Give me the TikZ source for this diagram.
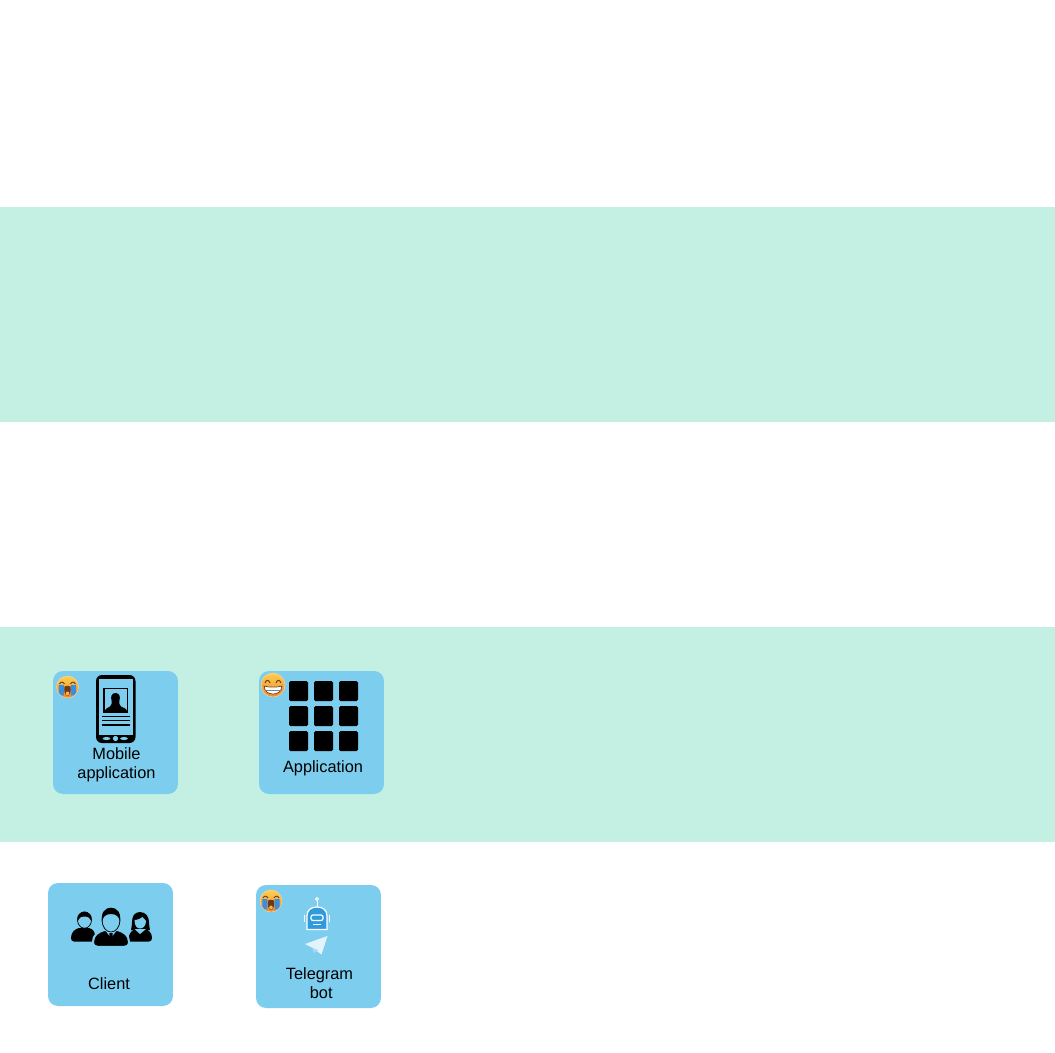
\documentclass[tikz,border=0pt]{standalone}
\usepackage{fontspec}
\setmainfont{Liberation Sans}
\definecolor{bandgreen}{HTML}{C3F0E3}
\definecolor{cardblue}{HTML}{7DCDEF}
\definecolor{botblue}{HTML}{2F9BDD}
\definecolor{planewhite}{HTML}{E3F3FB}
\definecolor{moji}{HTML}{FDD04F}
\definecolor{mojilow}{HTML}{EE8A2B}
\definecolor{mojibrown}{HTML}{6B3A1E}
\definecolor{tearblue}{HTML}{3A8EE0}
\tikzset{
    band/.style={fill=bandgreen},
    card/.style={fill=cardblue,rounded corners=0.2cm,minimum width=2.5cm,minimum height=2.46cm,inner sep=0pt},
    cardtext/.style={align=center,inner sep=0pt,font=\fontsize{9.3}{10.8}\selectfont},
    cutout/.style={fill=cardblue},
    cry/.pic={
        \shade[top color=moji,bottom color=mojilow,draw=white!60!mojilow,line width=0.3pt] (0,0) circle (11);
        \fill[tearblue] (-8.7,-2) -- (-3.7,-2) -- (-3.7,8.5) .. controls (-5.5,9.5) and (-7.5,8) .. (-8.7,5.5) -- cycle;
        \fill[tearblue] (8.7,-2) -- (3.7,-2) -- (3.7,8.5) .. controls (5.5,9.5) and (7.5,8) .. (8.7,5.5) -- cycle;
        \draw[mojibrown,line width=0.5pt] (-8,-3) .. controls (-6.5,-5.5) and (-4.5,-5.5) .. (-3,-3);
        \draw[mojibrown,line width=0.5pt] (8,-3) .. controls (6.5,-5.5) and (4.5,-5.5) .. (3,-3);
        \fill[mojibrown] (-3,-0.5) .. controls (-1,-1.5) and (1,-1.5) .. (3,-0.5) .. controls (3.8,3) and (2.8,9) .. (0,9) .. controls (-2.8,9) and (-3.8,3) .. (-3,-0.5) -- cycle;
        \fill[moji!60!mojilow] (0,6.5) ellipse (1.8 and 2);
    },
    grin/.pic={
        \shade[top color=moji,bottom color=mojilow,draw=white!60!mojilow,line width=0.3pt] (0,0) circle (12);
        \draw[mojibrown,line width=0.55pt] (-8,-2) .. controls (-7,-5.5) and (-4,-5.5) .. (-3,-2);
        \draw[mojibrown,line width=0.55pt] (8,-2) .. controls (7,-5.5) and (4,-5.5) .. (3,-2);
        \draw[mojibrown,fill=white,line width=0.4pt] (-9,1) .. controls (-4,2.5) and (4,2.5) .. (9,1) .. controls (8.5,7) and (4,9) .. (0,9) .. controls (-4,9) and (-8.5,7) .. (-9,1) -- cycle;
        \draw[gray,line width=0.3pt] (-8.5,5) -- (8.5,5);
    }
}
\begin{document}
\begin{tikzpicture}[x=0.02cm,y=-0.02cm]
    \useasboundingbox (0,0) rectangle (1055,1052);
    \fill[white] (0,0) rectangle (1055,1052);
    \fill[band] (0,207) rectangle (1055,422);
    \fill[band] (0,627) rectangle (1055,842);

    \node[card] (mobile) at (115.5,732.5) {};
    \node[card] (application) at (321.5,732.5) {};
    \node[card] (client) at (110.5,944.5) {};
    \node[card] (telegram) at (318.5,946.5) {};

    \node[cardtext] (mobilelabel) at (116.5,764.5) {Mobile\\application};
    \node[cardtext] (applicationlabel) at (323,768) {Application};
    \node[cardtext] (clientlabel) at (109,984) {Client};
    \node[cardtext] (telegramlabel) at (319.5,983.5) {Telegram\\\hspace*{2pt}bot};

    \pic at (67.5,687) {cry};
    \pic at (273,685) {grin};
    \pic at (271,901) {cry};

    \fill[rounded corners=0.12cm] (96,675) rectangle (135.5,743);
    \fill[cutout] (99,679) rectangle (132.5,735);
    \draw[line width=0.6pt] (104,688.5) rectangle (127.5,712.5);
    \fill (115.5,693) .. controls (119.5,693) and (120.5,697) .. (119.5,700) .. controls (119,703) and (119,705) .. (121,706.5) .. controls (124,707.5) and (127,709) .. (127.5,712.5) -- (104,712.5) .. controls (104.5,709) and (108,707.5) .. (110,706.5) .. controls (112,705) and (112,703) .. (111.5,700) .. controls (110.5,697) and (111.5,693) .. (115.5,693) -- cycle;
    \foreach \liney in {716.5,720.5,725}
        \draw[line width=0.75pt] (102,\liney) -- (130,\liney);
    \fill[cutout] (115.5,738.5) circle (2.6);
    \fill[cutout] (106.5,738.5) ellipse (3.8 and 1.5);
    \fill[cutout] (124,738.5) ellipse (3.8 and 1.5);

    \foreach \gridx in {289,314,339}
        \foreach \gridy in {681,706,731}
            \fill[rounded corners=0.03cm] (\gridx,\gridy) rectangle ++(19,20);

    \fill (71,938) .. controls (71,932) and (75,929) .. (79,928) -- (89,928) .. controls (93,929) and (95,932) .. (95,936) -- (95,941.5) -- (74,941.5) .. controls (72,941.5) and (71,940) .. (71,938) -- cycle;
    \filldraw[fill=cardblue,line width=0.4pt] (84.5,920) ellipse (7 and 8.2);
    \fill (84.5,912) .. controls (89,912) and (92.5,915) .. (91.5,921) .. controls (90.5,918) and (88,916.5) .. (84.5,916.5) .. controls (81,916.5) and (78.5,918) .. (77.5,921) .. controls (76.5,915) and (80,912) .. (84.5,912) -- cycle;

    \fill (129,936) .. controls (130,932) and (133,929.5) .. (136,929) -- (145,929) .. controls (149,930) and (152,933) .. (152,938) .. controls (152,940) and (151,941.5) .. (149,941.5) -- (129,941.5) -- cycle;
    \fill (140,912) .. controls (146,912) and (149,917) .. (149,922) .. controls (149,925) and (149.5,928) .. (150,930) -- (131,930) .. controls (131.5,928) and (132,925) .. (132,922) .. controls (132,917) and (134,912) .. (140,912) -- cycle;
    \fill[cutout] (134.5,920) .. controls (137,920) and (141,918.5) .. (142.5,917) .. controls (144,918.5) and (145.5,920) .. (146,921) .. controls (146,926) and (143,928.5) .. (140,928.5) .. controls (137,928.5) and (134.5,926) .. (134.5,920) -- cycle;
    \fill[cutout] (134.5,929) -- (146,929) -- (140,934) -- cycle;

    \draw[cardblue,line width=1.2pt,fill=black] (93,942) .. controls (93,935) and (98,932) .. (104,930) -- (118,930) .. controls (124,932) and (129,935) .. (129,942) .. controls (129,945.5) and (127,947) .. (124,947) -- (98,947) .. controls (95,947) and (93,945.5) .. (93,942) -- cycle;
    \fill[cutout] (105,930) -- (111,938) -- (117,930) -- cycle;
    \fill (109.5,933) -- (112.5,933) -- (113,942) -- (111,945) -- (109,942) -- cycle;
    \filldraw[fill=cardblue,line width=0.4pt] (111,920) ellipse (9 and 12);
    \fill (111,908) .. controls (118,908) and (121,913) .. (120,922) .. controls (119,917) and (117,914) .. (111,914) .. controls (105,914) and (103,917) .. (102,922) .. controls (101,913) and (104,908) .. (111,908) -- cycle;

    \draw[white,fill=botblue,line width=0.7pt] (307,929.5) -- (307,916) .. controls (307,910) and (311,907) .. (317,907) .. controls (323,907) and (327,910) .. (327,916) -- (327,929.5) -- cycle;
    \draw[white,line width=0.5pt] (317,907) -- (317,901);
    \draw[white,line width=0.5pt] (317,899) circle (1.6);
    \draw[white,fill=botblue,line width=0.7pt,rounded corners=0.04cm] (311,915) rectangle (323,920.5);
    \draw[white,line width=0.6pt] (313,924.5) -- (321,924.5);
    \draw[white,line width=0.5pt] (304.5,915) -- (304.5,922);
    \draw[white,line width=0.5pt] (329.5,915) -- (329.5,922);
    \fill[planewhite] (327.5,936) -- (305,944) -- (312,947.5) -- (321.5,954.5) -- cycle;
    \fill[cardblue!60!planewhite] (312,947.5) -- (314,953) -- (318,950) -- cycle;
\end{tikzpicture}
\end{document}
